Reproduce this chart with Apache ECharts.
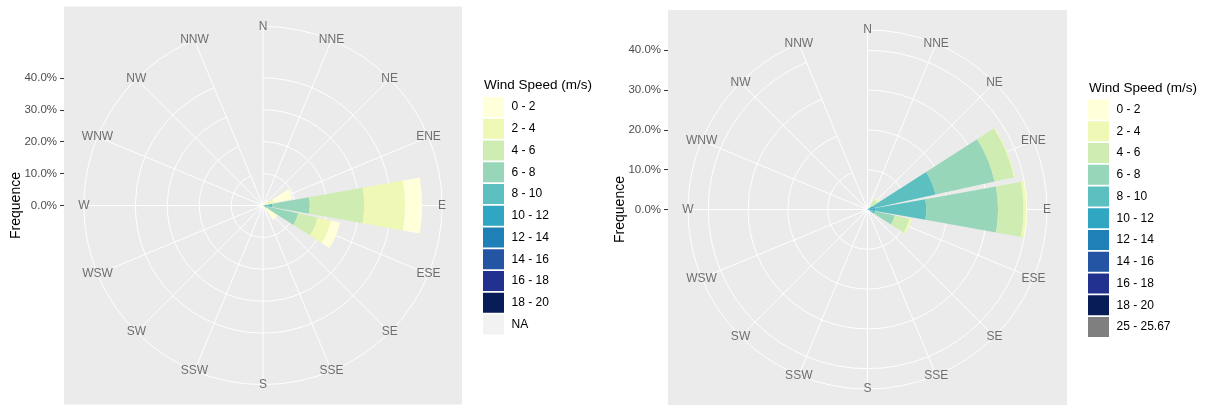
<!DOCTYPE html>
<html><head><meta charset="utf-8">
<script src="https://cdn.jsdelivr.net/npm/echarts@6/dist/echarts.min.js"></script>
<style>html,body{margin:0;padding:0;background:#fff}#c{width:1206px;height:405px}</style>
</head><body><div id="c"></div>
<script>
const directions = ['N','NNE','NE','ENE','E','ESE','SE','SSE','S','SSW','SW','WSW','W','WNW','NW','NNW'];
const speedBins = ['0 - 2','2 - 4','4 - 6','6 - 8','8 - 10','10 - 12','12 - 14','14 - 16','16 - 18','18 - 20'];
const binColors = ['#FFFFD9','#EFF9B5','#CFECB3','#97D6B9','#5DC0C0','#31A6C2','#1F80B8','#2355A4','#22318D','#081D58'];
const extraBinLeft = 'NA';
const extraColorLeft = '#F2F2F2';
const extraBinRight = '25 - 25.67';
const extraColorRight = '#7F7F7F';
const freqBreaks = [0, 10, 20, 30, 40, 50, 60];

// Left chart frequencies (%) per direction, N..NNW
const left_0_2   = [0,0,2.0,6.0,5.4,2.9,4.0,0,0,0,0,0,0,0,0,0];
const left_2_4   = [0,0,0,3.0,12.8,4.3,1.5,0,0,0,0,0,0,0,0,0];
const left_4_6   = [0,0,0,0.5,17.0,6.2,0,0,0,0,0,0,0,0,0,0];
const left_6_8   = [0,0,0,0,11.7,10.0,0,0,0,0,0,0,0,0,0,0];
const left_8_10  = [0,0,0,0,2.0,0.8,0,0,0,0,0,0,0,0,0,0];
const left_10_12 = [0,0,0,0,1.0,0.5,0,0,0,0,0,0,0,0,0,0];
const left_12_14 = [0,0,0,0,0,0,0,0,0,0,0,0,0,0,0,0];
const left_14_16 = [0,0,0,0,0,0,0,0,0,0,0,0,0,0,0,0];
const left_16_18 = [0,0,0,0,0,0,0,0,0,0,0,0,0,0,0,0];
const left_18_20 = [0,0,0,0,0,0,0,0,0,0,0,0,0,0,0,0];
const left_NA    = [0,0,0,0,0,0,0,0,0,0,0,0,0,0,0,0];

// Right chart frequencies (%) per direction, N..NNW
const right_0_2   = [0,0,0,0,0.2,0,0,0,0,0,0,0,0,0,0,0];
const right_2_4   = [0,0,0.5,0.3,0.7,0.5,0,0,0,0,0,0,0,0,0,0];
const right_4_6   = [0,0,2.5,5.0,6.4,3.8,0,0,0,0,0,0,0,0,0,0];
const right_6_8   = [0,0,0.5,15.2,18.0,5.0,0,0,0,0,0,0,0,0,0,0];
const right_8_10  = [0,0,0,16.0,12.8,1.5,0,0,0,0,0,0,0,0,0,0];
const right_10_12 = [0,0,0,1.2,1.5,0.5,0,0,0,0,0,0,0,0,0,0];
const right_12_14 = [0,0,0,0.3,0.5,0,0,0,0,0,0,0,0,0,0,0];
const right_14_16 = [0,0,0,0,0,0,0,0,0,0,0,0,0,0,0,0];
const right_16_18 = [0,0,0,0,0,0,0,0,0,0,0,0,0,0,0,0];
const right_18_20 = [0,0,0,0,0,0,0,0,0,0,0,0,0,0,0,0];
const right_extra = [0,0,0,0,0,0,0,0,0,0,0,0,0,0,0,0];

const FONT = '"Liberation Sans", Arial, sans-serif';

const leftVals = [left_0_2,left_2_4,left_4_6,left_6_8,left_8_10,left_10_12,left_12_14,left_14_16,left_16_18,left_18_20,left_NA];
const rightVals = [right_0_2,right_2_4,right_4_6,right_6_8,right_8_10,right_10_12,right_12_14,right_14_16,right_16_18,right_18_20,right_extra];

const option = {
  animation: false,
  backgroundColor: '#fff',
  polar: [], angleAxis: [], radiusAxis: [], grid: [], xAxis: [], yAxis: [],
  series: [], legend: [], graphic: []
};

function addChart(idx, vals, names, colors, panel, legendX, legendY, titleY) {
  const cx = panel.x + panel.size / 2, cy = panel.y + panel.size / 2;
  const totals = directions.map((d, i) => vals.reduce((s, a) => s + a[i], 0));
  const maxTotal = Math.max(...totals);
  const rData = 0.4 * panel.size, rOuter = 0.45 * panel.size;
  const outerMax = maxTotal * rOuter / rData;
  const breaks = freqBreaks.filter(b => b <= maxTotal);
  const breakMax = breaks[breaks.length - 1];
  const ppu = rData / maxTotal;
  const pA = option.polar.length, pB = pA + 1;

  option.graphic.push({type: 'rect', silent: true, z: -100,
    shape: {x: panel.x, y: panel.y, width: panel.size, height: panel.size},
    style: {fill: '#EBEBEB'}});

  option.polar.push({center: [cx, cy], radius: rOuter});
  option.polar.push({center: [cx, cy], radius: breakMax * ppu});

  option.angleAxis.push({polarIndex: pA, type: 'category', data: directions, boundaryGap: false,
    startAngle: 90, clockwise: true,
    axisLine: {show: true, lineStyle: {color: '#FFFFFF', width: 1}},
    axisTick: {show: false}, axisLabel: {show: false},
    splitLine: {show: true, interval: 0, lineStyle: {color: '#FFFFFF', width: 1}}});
  option.angleAxis.push({polarIndex: pB, type: 'category', data: directions, boundaryGap: false,
    startAngle: 90, clockwise: true,
    axisLine: {show: false}, axisTick: {show: false}, axisLabel: {show: false}, splitLine: {show: false}});
  option.radiusAxis.push({polarIndex: pA, type: 'value', min: 0, max: outerMax,
    axisLine: {show: false}, axisTick: {show: false}, axisLabel: {show: false}, splitLine: {show: false}});
  option.radiusAxis.push({polarIndex: pB, type: 'value', min: 0, max: breakMax, interval: 10,
    axisLine: {show: false}, axisTick: {show: false}, axisLabel: {show: false},
    splitLine: {show: true, lineStyle: {color: '#FFFFFF', width: 1}}});

  const g = option.grid.length;
  option.grid.push({left: panel.x, top: cy - breakMax * ppu, width: 10, height: breakMax * ppu, show: false});
  option.xAxis.push({gridIndex: g, type: 'value', show: false});
  option.yAxis.push({gridIndex: g, type: 'value', min: 0, max: breakMax, interval: 10,
    axisLine: {show: false},
    axisTick: {show: true, length: 4, lineStyle: {color: '#333333', width: 1}},
    axisLabel: {margin: 7, color: '#4D4D4D', fontSize: 11.5, fontFamily: FONT,
      formatter: v => v.toFixed(1) + '%'},
    splitLine: {show: false}});

  // stacked bars: last level innermost (ggplot stacking order)
  for (let k = names.length - 1; k >= 0; k--) {
    option.series.push({type: 'bar', name: names[k], coordinateSystem: 'polar', polarIndex: pA,
      stack: 'rose' + idx, data: vals[k], barCategoryGap: '10%', silent: true,
      itemStyle: {color: colors[k]}, z: 2});
  }
  option.series.push({type: 'scatter', name: 'dir' + idx, coordinateSystem: 'polar', polarIndex: pA,
    symbolSize: 1, silent: true, itemStyle: {color: 'rgba(0,0,0,0)'}, z: 5,
    data: directions.map(d => ({name: d, value: [outerMax, d]})),
    label: {show: true, position: 'inside', formatter: '{b}', color: '#4D4D4D', fontSize: 12, fontFamily: FONT}});

  option.legend.push({data: names, orient: 'vertical', left: legendX, top: legendY, padding: 0,
    itemWidth: 21, itemHeight: 20, itemGap: 1.75, icon: 'rect', selectedMode: false,
    textStyle: {color: '#000', fontSize: 12, fontFamily: FONT, padding: [0, 0, 0, 2.5]}});

  option.graphic.push({type: 'text', silent: true, x: legendX + 1, y: titleY,
    style: {text: 'Wind Speed (m/s)', font: '13.5px ' + FONT, fill: '#000', align: 'left', verticalAlign: 'middle'}});
  option.graphic.push({type: 'text', silent: true, x: panel.x - 48, y: cy, rotation: Math.PI / 2,
    style: {text: 'Frequence', font: '14px ' + FONT, fill: '#000', align: 'center', verticalAlign: 'middle'}});
}

addChart(0, leftVals, speedBins.concat([extraBinLeft]), binColors.concat([extraColorLeft]),
  {x: 64, y: 6.5, size: 398}, 483, 97, 85.5);
addChart(1, rightVals, speedBins.concat([extraBinRight]), binColors.concat([extraColorRight]),
  {x: 668, y: 10, size: 399}, 1088, 99.5, 88.5);

const chart = echarts.init(document.getElementById('c'), null, {renderer: 'canvas'});
chart.setOption(option);
</script></body></html>
